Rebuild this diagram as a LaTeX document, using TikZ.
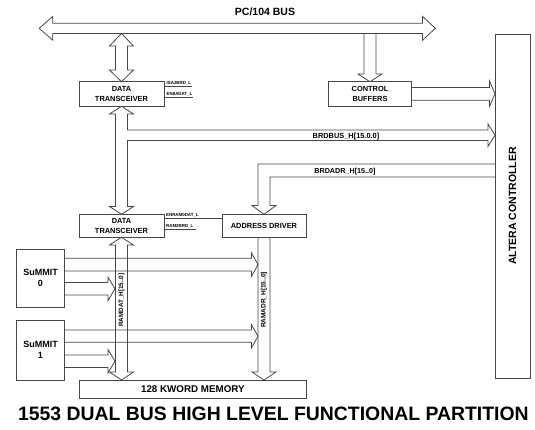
\documentclass[tikz,border=0pt]{standalone}
\usepackage{fontspec}
\setmainfont{Liberation Sans}
\newcommand\fs[2][]{\fontsize{#2}{#2}\selectfont\bfseries}
\newcommand\fsl[2]{\fontsize{#1}{#2}\selectfont\bfseries}
\begin{document}
\begin{tikzpicture}[x=1pt,y=-1pt,
  ln/.style={draw=black!72, line width=0.8pt, line join=miter},
  thin/.style={draw=black!72, line width=0.6pt},
  box/.style={ln, fill=white, inner sep=0pt, align=center, font=\fsl{7.4}{10}},
  lbl/.style={inner sep=0pt, font=\fs{7.4}},
  sig/.style={inner sep=0pt, anchor=base west, font=\fs{4.4}}]
\useasboundingbox (0,0) rectangle (535,429);

% ---------- PC/104 bus (double-headed block arrow)
\draw[ln] (39.2,28.3) -- (52.8,16.4) -- (52.8,23.2) -- (422.5,23.2) -- (422.5,16.4)
  -- (435.4,28.3) -- (422.5,40.2) -- (422.5,33.4) -- (52.8,33.4) -- (52.8,40.2) -- cycle;
\node[lbl, font=\fs{10.5}] (bus) at (265,12) {PC/104 BUS};

% ---------- boxes
\node[box, minimum width=85pt, minimum height=24.5pt] (dt1) at (121.5,94) {DATA\\TRANSCEIVER};
\node[box, minimum width=83.6pt, minimum height=24.5pt] (cb) at (370,94) {CONTROL\\BUFFERS};
\node[box, minimum width=85pt, minimum height=23pt] (dt2) at (121.5,225.8) {DATA\\TRANSCEIVER};
\node[box, minimum width=84pt, minimum height=23pt] (ad) at (264,225.8) {ADDRESS DRIVER};
\node[box, minimum width=48.3pt, minimum height=58pt, font=\fsl{9}{11}] (s0) at (40.5,278) {SuMMIT\\0};
\node[box, minimum width=48.3pt, minimum height=60pt, font=\fsl{9}{11}] (s1) at (40.5,350) {SuMMIT\\1};
\node[box, minimum width=226.3pt, minimum height=18pt, font=\fs{9.8}] (mem) at (192.9,389) {128 KWORD MEMORY};

% ---------- bus <-> data transceiver 1
\draw[ln] (121.5,33.4) -- (133.5,46) -- (127.5,46) -- (127.5,70) -- (133.5,70) -- (121.5,81.75)
  -- (109.5,70) -- (115.5,70) -- (115.5,46) -- (109.5,46) -- cycle;

% ---------- bus -> control buffers
\draw[ln] (364,33.4) -- (364,74) -- (358,74) -- (370,81.75) -- (382,74) -- (376,74) -- (376,33.4);

% ---------- control buffers -> altera
\draw[ln] (411.8,87.5) -- (489.5,87.5) -- (489.5,81) -- (495,93.8) -- (489.5,106.5) -- (489.5,100.3) -- (411.8,100.3);

% ---------- BRDBUS
\draw[ln] (115.5,114) -- (109.5,114) -- (121.5,106.25) -- (133.5,114) -- (127.5,114) -- (127.5,130)
  -- (488,130) -- (488,124) -- (495,135.2) -- (488,146.4) -- (488,140.4) -- (127.5,140.4)
  -- (127.5,206.5) -- (133.5,206.5) -- (121.5,214.3) -- (109.5,206.5) -- (115.5,206.5) -- cycle;
\node[lbl, anchor=base] at (346,138) {BRDBUS\_H[15.0.0]};

% ---------- BRDADR
\draw[ln] (495,164) -- (258,164) -- (258,205.5) -- (252,205.5) -- (264,214.3) -- (276,205.5)
  -- (270,205.5) -- (270,177) -- (495,177);
\node[lbl, anchor=base, font=\fs{7.2}] at (345,173.3) {BRDADR\_H[15..0]};

% ---------- RAMDAT (dt2 <-> memory)
\draw[ln] (121.5,237.3) -- (133.5,245) -- (127.5,245) -- (127.5,372) -- (133.5,372) -- (121.5,380)
  -- (109.5,372) -- (115.5,372) -- (115.5,245) -- (109.5,245) -- cycle;
\node[lbl, rotate=90, font=\fs{6.3}] at (121.5,300) {RAMDAT\_H[15..0]};

% ---------- RAMADR (address driver -> memory)
\draw[ln] (258,237.3) -- (258,372) -- (252,372) -- (264,380) -- (276,372) -- (270,372) -- (270,237.3);
\node[lbl, rotate=90, font=\fs{6.5}] at (264,300) {RAMADR\_H[15..0]};

% ---------- SuMMIT arrows
\draw[ln] (64.65,258.3) -- (251.5,258.3) -- (251.5,253) -- (258,264.6) -- (251.5,276.3) -- (251.5,271) -- (64.65,271);
\draw[ln] (64.65,282.5) -- (108,282.5) -- (108,277.2) -- (115,288.8) -- (108,300.5) -- (108,295) -- (64.65,295);
\draw[ln] (64.65,330) -- (251.5,330) -- (251.5,324.6) -- (258,336.2) -- (251.5,347.9) -- (251.5,342.3) -- (64.65,342.3);
\draw[ln] (64.65,355) -- (108,355) -- (108,349.6) -- (115,361.2) -- (108,372.9) -- (108,367.5) -- (64.65,367.5);

% ---------- signal labels
\node[sig] (isa) at (166.5,84.8) {ISA2BRD\_L};
\draw[thin] (164,86.6) -- (192,86.6);
\node[sig] (en8) at (166.5,95.3) {EN8ADAT\_L};
\draw[thin] (164,97.1) -- (193,97.1);
\node[sig] (enr) at (166,216.3) {ENRAM0DAT\_L};
\draw[thin] (164,218.1) -- (222,218.1);
\node[sig] (r2b) at (166,227.3) {RAM2BRD\_L};
\draw[thin] (164,229.1) -- (196,229.1);

% ---------- Altera controller
\node[box, minimum width=35pt, minimum height=344pt] (alt) at (512.5,206) {};
\node[lbl, rotate=90, font=\fs{10.5}] at (alt.center) {ALTERA CONTROLLER};

% ---------- title
\node[inner sep=0pt, anchor=base, font=\fs{19.4}] (title) at (273.4,420.4) {1553 DUAL BUS HIGH LEVEL FUNCTIONAL PARTITION};
\end{tikzpicture}
\end{document}
